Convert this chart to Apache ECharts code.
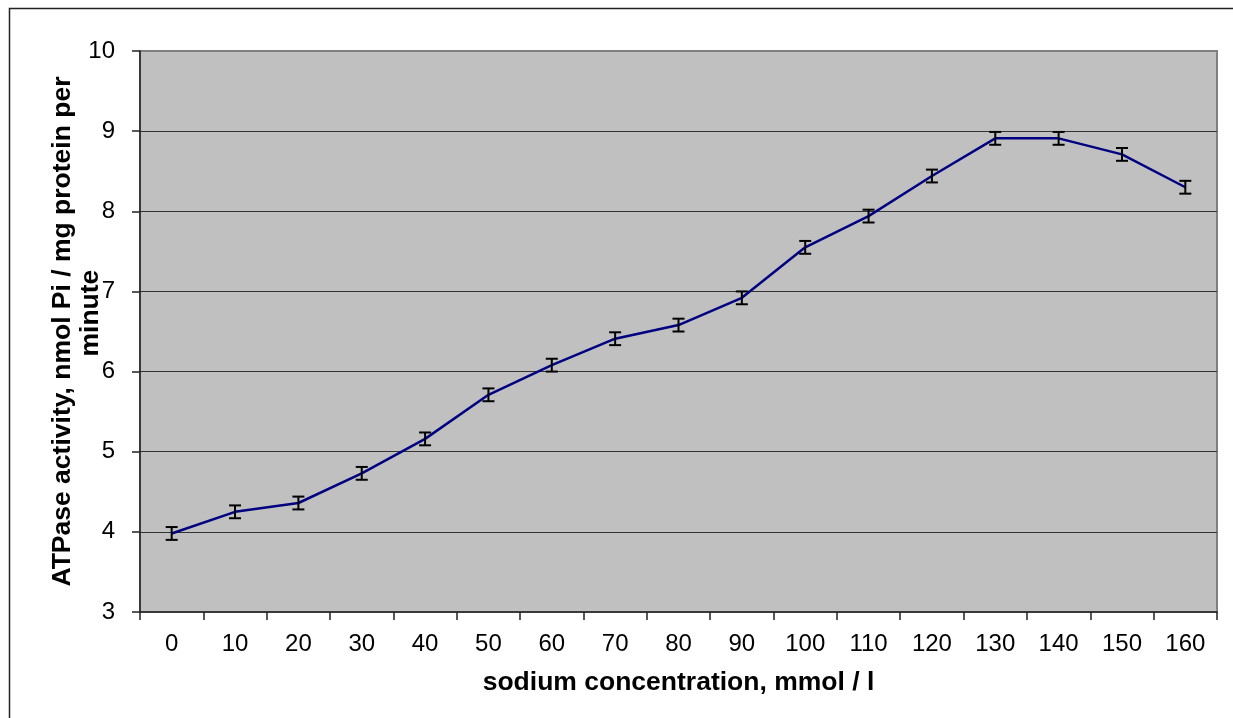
<!DOCTYPE html>
<html>
<head>
<meta charset="utf-8">
<script src="https://cdn.jsdelivr.net/npm/echarts@6/dist/echarts.min.js"></script>
<style>
    html,body{margin:0;padding:0;background:#fff;}
    #main{width:1233px;height:718px;}
</style>
</head>
<body>
<div id="main"></div>
<script>
// 数据
var categories = ['0','10','20','30','40','50','60','70','80','90','100','110','120','130','140','150','160'];
var activity = [3.98, 4.25, 4.36, 4.73, 5.16, 5.71, 6.08, 6.41, 6.58, 6.92, 7.55, 7.94, 8.44, 8.91, 8.91, 8.71, 8.30];
var errors = [0.08, 0.08, 0.08, 0.08, 0.08, 0.08, 0.08, 0.08, 0.08, 0.08, 0.08, 0.08, 0.08, 0.08, 0.08, 0.08, 0.08];
var yTicks = [3, 4, 5, 6, 7, 8, 9, 10];

var fontName = '"Liberation Sans", Arial, sans-serif';

// 误差线数据 [index, low, high]
var errData = [];
for(var i=0;i<activity.length;i++){
    errData.push([i, activity[i]-errors[i], activity[i]+errors[i]]);
}

function renderErrBar(params, api){
    var x = api.value(0);
    var lo = api.coord([x, api.value(1)]);
    var hi = api.coord([x, api.value(2)]);
    var w = 6;
    var st = {stroke:'#000', lineWidth:2};
    return {
        type: 'group',
        children: [
            {type:'line', shape:{x1:lo[0], y1:lo[1], x2:hi[0], y2:hi[1]}, style:st},
            {type:'line', shape:{x1:lo[0]-w, y1:lo[1], x2:lo[0]+w, y2:lo[1]}, style:st},
            {type:'line', shape:{x1:hi[0]-w, y1:hi[1], x2:hi[0]+w, y2:hi[1]}, style:st}
        ]
    };
}

var chart = echarts.init(document.getElementById('main'));
var option = {
    animation: false,
    backgroundColor: '#fff',
    textStyle: {fontFamily: fontName},
    graphic: [{
        type: 'rect',
        shape: {x: 9.5, y: 8.5, width: 1400, height: 900},
        style: {fill: 'none', stroke: '#222', lineWidth: 1.5},
        silent: true,
        z: -1
    }],
    grid: {
        left: 140, top: 51, right: 16, bottom: 106,
        show: true,
        backgroundColor: '#c0c0c0',
        borderColor: '#808080',
        borderWidth: 2
    },
    xAxis: {
        type: 'category',
        data: categories,
        boundaryGap: true,
        name: 'sodium concentration, mmol / l',
        nameLocation: 'middle',
        nameGap: 57,
        nameTextStyle: {color:'#000', fontSize: 26.5, fontWeight: 'bold', fontFamily: fontName},
        axisLine: {show: true, lineStyle: {color: '#222', width: 1.5}},
        axisTick: {show: true, interval: 0, length: 8, lineStyle: {color: '#222', width: 1.5}},
        axisLabel: {interval: 0, color: '#000', fontSize: 24, margin: 20, fontFamily: fontName},
        splitLine: {show: false}
    },
    yAxis: {
        type: 'value',
        min: yTicks[0],
        max: yTicks[yTicks.length-1],
        interval: 1,
        name: 'ATPase activity, nmol Pi / mg protein per\n     minute',
        nameLocation: 'middle',
        nameGap: 35,
        nameMoveOverlap: false,
        nameTextStyle: {color:'#000', fontSize: 26.5, fontWeight: 'bold', fontFamily: fontName, lineHeight: 28},
        axisLine: {show: true, lineStyle: {color: '#222', width: 1.5}},
        axisTick: {show: true, length: 8, lineStyle: {color: '#222', width: 1.5}},
        axisLabel: {color: '#000', fontSize: 24, margin: 25, fontFamily: fontName},
        splitLine: {show: true, showMinLine: false, showMaxLine: false, lineStyle: {color: '#333', width: 1.2}}
    },
    series: [
        {
            name: 'activity',
            type: 'line',
            data: activity,
            symbol: 'none',
            lineStyle: {color: '#000080', width: 2.5},
            z: 3
        },
        {
            name: 'error',
            type: 'custom',
            data: errData,
            renderItem: renderErrBar,
            encode: {x: 0, y: [1, 2]},
            z: 4
        }
    ]
};
chart.setOption(option);
</script>
</body>
</html>
